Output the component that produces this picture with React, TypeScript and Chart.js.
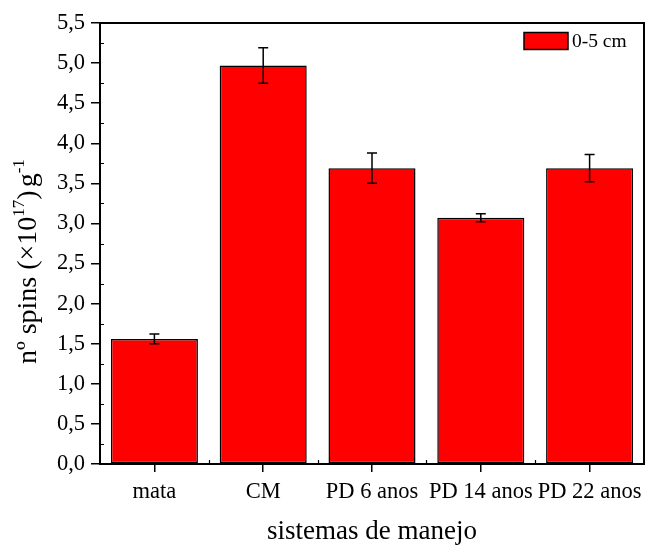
import React, { useEffect, useRef } from 'react';
import { Chart, registerables } from 'chart.js';

Chart.register(...registerables);

const categories = ['mata', 'CM', 'PD 6 anos', 'PD 14 anos', 'PD 22 anos'];
const spins = [1.56, 4.97, 3.69, 3.07, 3.69];
const spinErrors = [0.06, 0.22, 0.19, 0.05, 0.17];
const seriesLabel = '0-5 cm';
const yMin = 0;
const yMax = 5.5;
const yStep = 0.5;
const yMinorStep = 0.25;
const xTitle = 'sistemas de manejo';
const yTitleParts = [
  { text: 'nº spins (×10', sup: false },
  { text: '17', sup: true },
  { text: ')', sup: false },
  { text: 'g', sup: false, gap: 3 },
  { text: '-1', sup: true },
];

const FONT = '"Liberation Serif", "Times New Roman", Times, serif';
const BAR_RED = '#FF0000';

const decorPlugin = {
  id: 'decor',
  afterDatasetsDraw(chart: any) {
    const ctx = chart.ctx;
    const xs = chart.scales.x;
    const ys = chart.scales.y;
    ctx.save();
    ctx.strokeStyle = '#000';
    ctx.lineWidth = 1.5;
    spins.forEach((v, i) => {
      const px = xs.getPixelForValue(i);
      const yt = ys.getPixelForValue(v + spinErrors[i]);
      const yb = ys.getPixelForValue(v - spinErrors[i]);
      ctx.beginPath();
      ctx.moveTo(px, yt);
      ctx.lineTo(px, yb);
      ctx.moveTo(px - 5, yt);
      ctx.lineTo(px + 5, yt);
      ctx.moveTo(px - 5, yb);
      ctx.lineTo(px + 5, yb);
      ctx.stroke();
    });
    ctx.restore();
  },
  afterDraw(chart: any) {
    const ctx = chart.ctx;
    const { left, right, top, bottom } = chart.chartArea;
    const xs = chart.scales.x;
    const ys = chart.scales.y;
    ctx.save();
    // frame
    ctx.strokeStyle = '#000';
    ctx.lineWidth = 2;
    ctx.strokeRect(left, top, right - left, bottom - top);
    // minor y ticks (inward)
    ctx.lineWidth = 1.2;
    ctx.beginPath();
    for (let v = yMin + yMinorStep; v < yMax; v += yStep) {
      const py = Math.round(ys.getPixelForValue(v)) + 0.5;
      ctx.moveTo(left, py);
      ctx.lineTo(left + 4, py);
    }
    // minor x ticks at category boundaries (inward)
    for (let i = 0; i < categories.length - 1; i++) {
      const px = Math.round(xs.getPixelForValue(i + 0.5)) + 0.5;
      ctx.moveTo(px, bottom);
      ctx.lineTo(px, bottom - 4);
    }
    ctx.stroke();

    // legend
    const bx = right - 120;
    const by = top + 9.5;
    ctx.fillStyle = BAR_RED;
    ctx.fillRect(bx, by, 44, 17);
    ctx.lineWidth = 1.5;
    ctx.strokeStyle = '#000';
    ctx.strokeRect(bx, by, 44, 17);
    ctx.fillStyle = '#000';
    ctx.font = `19.5px ${FONT}`;
    ctx.textBaseline = 'middle';
    ctx.textAlign = 'left';
    ctx.fillText(seriesLabel, right - 72, by + 9);

    // x title
    ctx.font = `27px ${FONT}`;
    ctx.textAlign = 'center';
    ctx.textBaseline = 'alphabetic';
    ctx.fillText(xTitle, (left + right) / 2, chart.height - 6);

    // y title with superscripts
    ctx.translate(36, 364);
    ctx.rotate(-Math.PI / 2);
    ctx.textAlign = 'left';
    let cx = 0;
    yTitleParts.forEach((p: any) => {
      cx += p.gap || 0;
      ctx.font = p.sup ? `17px ${FONT}` : `28px ${FONT}`;
      ctx.fillText(p.text, cx, p.sup ? -12 : 0);
      cx += ctx.measureText(p.text).width;
    });
    ctx.restore();
  },
};

export default function App() {
  const canvasRef = useRef<HTMLCanvasElement | null>(null);

  useEffect(() => {
    const canvas = canvasRef.current;
    if (!canvas) return;
    const chart = new Chart(canvas, {
      type: 'bar',
      data: {
        labels: categories,
        datasets: [
          {
            label: seriesLabel,
            data: spins,
            backgroundColor: BAR_RED,
            borderColor: '#000',
            borderWidth: 1.5,
            borderSkipped: false,
            barPercentage: 0.8,
            categoryPercentage: 1,
          },
        ],
      },
      options: {
        animation: false,
        responsive: false,
        devicePixelRatio: 1,
        layout: { padding: { top: 23, right: 5, left: 0, bottom: 0 } },
        plugins: {
          legend: { display: false },
          tooltip: { enabled: false },
        },
        scales: {
          x: {
            type: 'category',
            offset: true,
            grid: {
              display: true,
              offset: false,
              drawOnChartArea: false,
              drawTicks: true,
              tickLength: 8,
              color: '#000',
              lineWidth: 1.5,
            },
            border: { display: true, color: '#000', width: 2 },
            ticks: {
              color: '#000',
              font: { family: FONT, size: 22.5 },
              padding: 7,
              maxRotation: 0,
              autoSkip: false,
            },
            afterFit: (s: any) => {
              s.height = 81;
            },
          },
          y: {
            type: 'linear',
            min: yMin,
            max: yMax,
            grid: {
              display: true,
              drawOnChartArea: false,
              drawTicks: true,
              tickLength: 9,
              color: '#000',
              lineWidth: 1.5,
            },
            border: { display: true, color: '#000', width: 2 },
            ticks: {
              stepSize: yStep,
              color: '#000',
              font: { family: FONT, size: 22.5 },
              padding: 6,
              callback: (v: any) => Number(v).toFixed(1).replace('.', ','),
            },
            afterFit: (s: any) => {
              s.width = 100;
            },
          },
        },
      },
      plugins: [decorPlugin],
    } as any);
    return () => chart.destroy();
  }, []);

  return (
    <div style={{ position: 'fixed', left: 0, top: 0, width: 649, height: 545, background: '#fff' }}>
      <canvas ref={canvasRef} width={649} height={545} style={{ display: 'block', width: 649, height: 545 }} />
    </div>
  );
}
